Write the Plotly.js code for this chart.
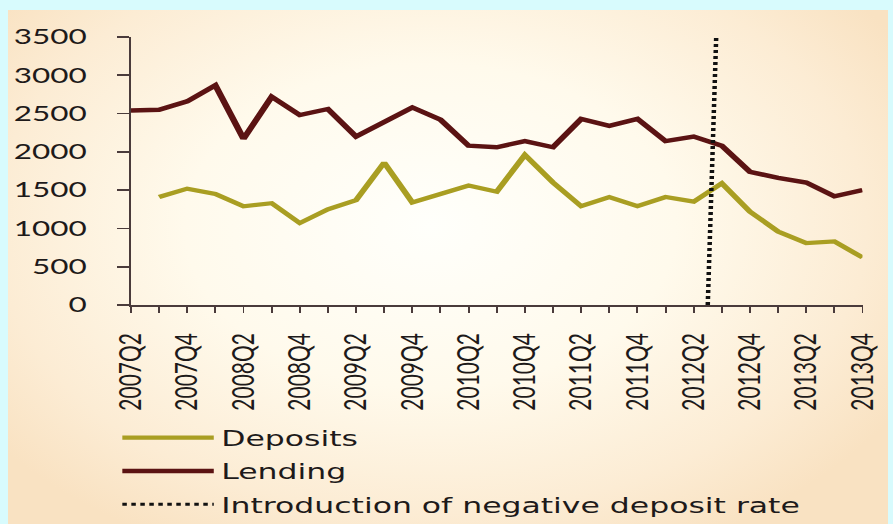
<!DOCTYPE html>
<html>
<head>
<meta charset="utf-8">
<script src="https://cdn.plot.ly/plotly-3.0.1.min.js"></script>
<style>
  html, body { margin: 0; padding: 0; background: #d8fbfd; width: 893px; height: 524px; overflow: hidden; }
  #frame {
    position: absolute; left: 8px; top: 10px; width: 880px; height: 514px; overflow: hidden;
    background: radial-gradient(ellipse 62% 70% at 48% 42%, #fffffb 0%, #fffaec 45%, #fcecd4 80%, #f9e2c2 100%);
  }
  #chart { position: absolute; left: 0; top: 0; width: 587px; height: 560px; transform-origin: 0 0; transform: scale(1.49915, 1); }
</style>
</head>
<body>
<div id="frame"><div id="chart"></div></div>
<script>
const quarters = ["2007Q2","2007Q3","2007Q4",
  "2008Q1","2008Q2","2008Q3","2008Q4",
  "2009Q1","2009Q2","2009Q3","2009Q4",
  "2010Q1","2010Q2","2010Q3","2010Q4",
  "2011Q1","2011Q2","2011Q3","2011Q4",
  "2012Q1","2012Q2","2012Q3","2012Q4",
  "2013Q1","2013Q2","2013Q3","2013Q4"];
const deposits = [null, 1410, 1520, 1450, 1290, 1330, 1070, 1250, 1370, 1860, 1340, 1450, 1560, 1480, 1960,
  1600, 1290, 1410, 1290, 1410, 1350, 1590, 1220, 960, 810, 830, 620];
const lending = [2540, 2550, 2660, 2870, 2170, 2720, 2480, 2560, 2200, 2390, 2580, 2420, 2080, 2060, 2140,
  2060, 2430, 2340, 2430, 2140, 2200, 2080, 1740, 1660, 1600, 1420, 1500];
// position (in quarter index units) of the introduction of the negative deposit rate, bottom and top
const negRateX = [20.5, 20.8];
const negRateY = [0, 3500];
const yTicks = [0, 500, 1000, 1500, 2000, 2500, 3000, 3500];

const xIdx = quarters.map((q, i) => i);
const xText = quarters.map((q, i) => (i % 2 === 0 ? q : ""));

const font = "Lato, 'Open Sans', sans-serif";
const legFont = "'DejaVu Sans', Verdana, sans-serif";
const traces = [
  { x: xIdx, y: deposits, type: "scatter", mode: "lines", name: "Deposits", legendgroup: "a",
    line: { color: "#a99e22", width: 4.2 } },
  { x: xIdx, y: lending, type: "scatter", mode: "lines", name: "Lending", legendgroup: "b",
    line: { color: "#5b1313", width: 4.4 } },
  { x: negRateX, y: negRateY, type: "scatter", mode: "lines", name: "Introduction of negative deposit rate", legendgroup: "c",
    line: { color: "#111111", width: 3, dash: "3px,3px" } }
];

const layout = {
  width: 587, height: 560,
  margin: { l: 82, r: 17, t: 27, b: 265 },
  paper_bgcolor: "rgba(0,0,0,0)", plot_bgcolor: "rgba(0,0,0,0)",
  font: { family: font, color: "#1e1a1a", size: 21 },
  xaxis: {
    range: [0, 26], tickmode: "array", tickvals: xIdx, ticktext: xText,
    tickangle: -90, ticks: "outside", ticklen: 6, tickwidth: 1.3, tickcolor: "#4a3b3b",
    showline: true, linecolor: "#4a3b3b", linewidth: 1.6, showgrid: false, zeroline: false,
    tickfont: { family: font, size: 21, color: "#1e1a1a" }, ticklabelstandoff: 12
  },
  yaxis: {
    range: [0, 3500], tickmode: "array", tickvals: yTicks,
    ticks: "outside", ticklen: 8, tickwidth: 1.6, tickcolor: "#4a3b3b",
    showline: true, linecolor: "#4a3b3b", linewidth: 1.3, showgrid: false, zeroline: false,
    tickfont: { family: font, size: 21, color: "#1e1a1a" }, ticklabelstandoff: 16
  },
  showlegend: true,
  legend: {
    x: -0.022, xanchor: "left", y: -0.42, yanchor: "top",
    orientation: "v", traceorder: "grouped", tracegroupgap: 3, itemwidth: 61,
    bgcolor: "rgba(0,0,0,0)", font: { family: legFont, size: 21, color: "#1e1a1a" }
  }
};

Plotly.newPlot("chart", traces, layout, { staticPlot: true, displayModeBar: false });
</script>
</body>
</html>
